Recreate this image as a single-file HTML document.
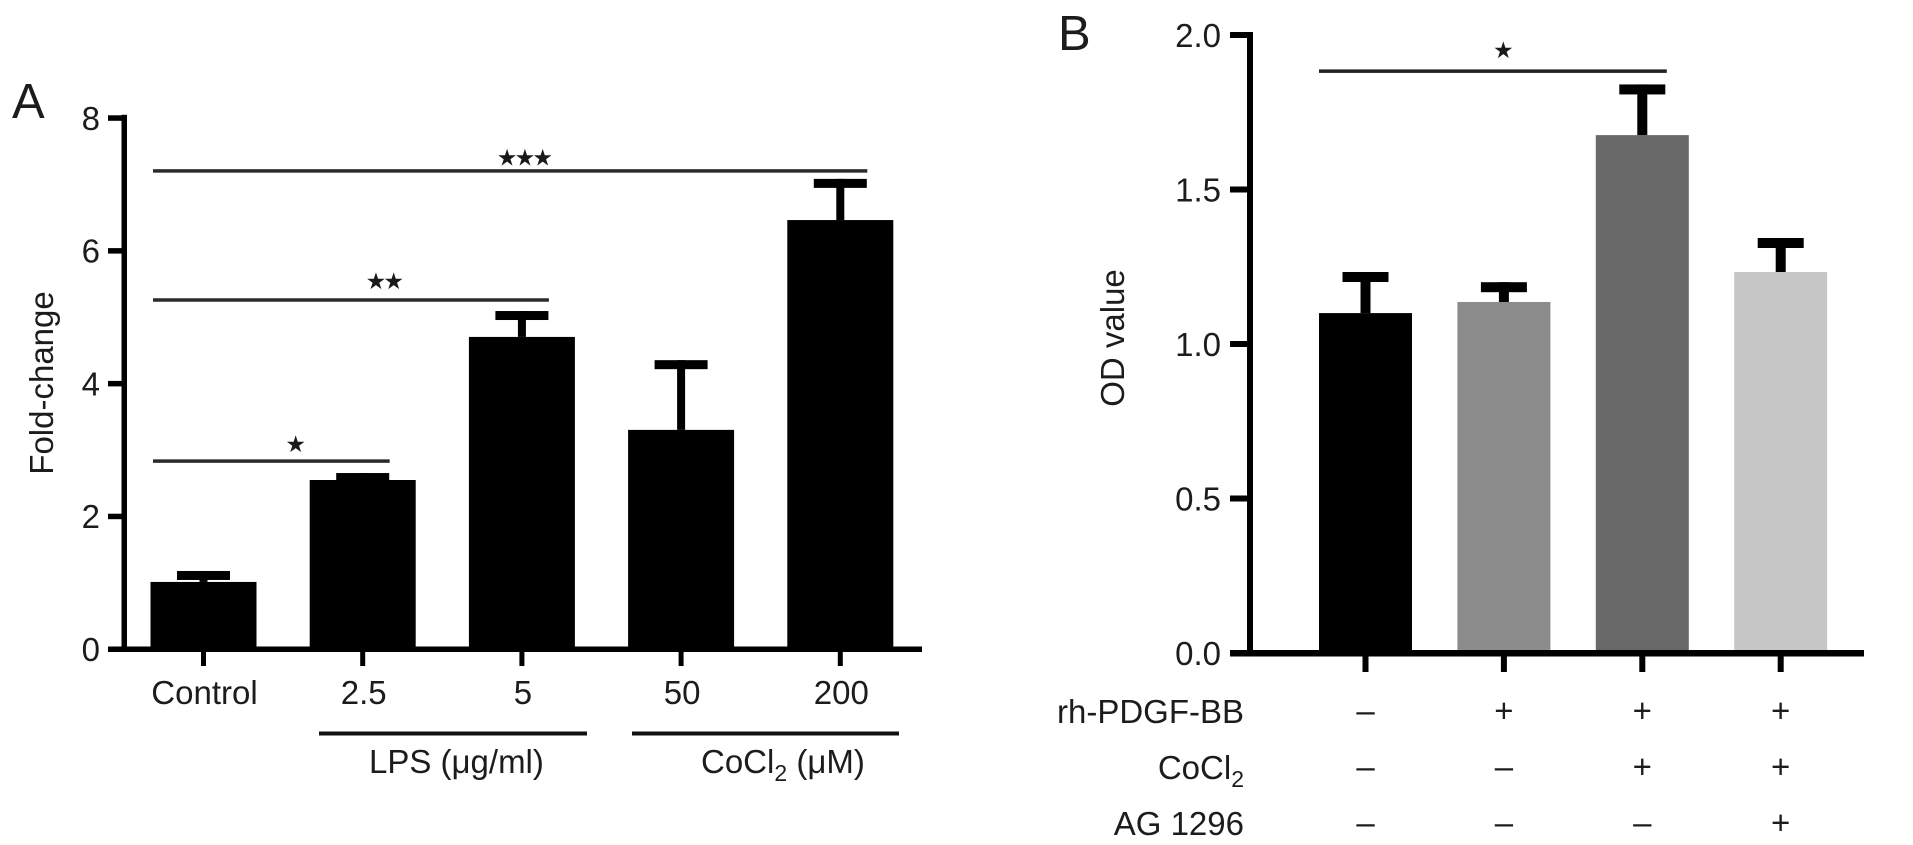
<!DOCTYPE html>
<html lang="en">
<head>
<meta charset="utf-8">
<title>Fold-change and OD value bar charts</title>
<style>
html,body{margin:0;padding:0;background:#fff;}
svg{display:block;}
text{font-family:"Liberation Sans",sans-serif;fill:#1c1c1c;font-size:33px;}
text.star{font-family:"DejaVu Sans",sans-serif;font-size:23px;letter-spacing:-2.8px;fill:#1a1a1a;}
</style>
</head>
<body>
<svg id="fig" width="1913" height="845" viewBox="0 0 1913 845" xmlns="http://www.w3.org/2000/svg">
<rect width="1913" height="845" fill="#fff"/>
<text x="12" y="118" style="font-size:49px">A</text>
<text x="1058" y="50" style="font-size:49px">B</text>
<text transform="translate(53,383) rotate(-90)" text-anchor="middle">Fold-change</text>
<text transform="translate(1124,338) rotate(-90)" text-anchor="middle">OD value</text>
<rect x="319" y="731.5" width="268" height="4" fill="#111"/>
<rect x="632" y="731.5" width="267" height="4" fill="#111"/>
<text x="369" y="773">LPS (μg/ml)</text>
<text x="701" y="773">CoCl<tspan dy="8" font-size="23">2</tspan><tspan dy="-8"> (μM)</tspan></text>
<text x="1244" y="723" text-anchor="end">rh-PDGF-BB</text>
<text x="1244" y="779" text-anchor="end">CoCl<tspan dy="8" font-size="23">2</tspan></text>
<text x="1244" y="835" text-anchor="end">AG 1296</text>
<g id="chartA"></g>
<g id="chartB"></g>
</svg>
<script>
// Panel A data
const aCategories = ["Control", "2.5", "5", "50", "200"];
const aMeans = [1.01, 2.545, 4.70, 3.30, 6.46];
const aUpper = [1.175, 2.65, 5.09, 4.35, 7.08];
const aTicks = [0, 2, 4, 6, 8];
const aSigStart = [0, 0, 0];
const aSigEnd = [1, 2, 4];
const aSigLevel = [2.83, 5.256, 7.2];
const aSigStars = ["★", "★★", "★★★"];
const aStarCategory = [0.57, 1.13, 2.01];
const aStarLevel = [3.07, 5.53, 7.39];
// Panel B data
const bMeans = [1.10, 1.136, 1.676, 1.233];
const bUpper = [1.233, 1.20, 1.84, 1.343];
const bColors = ["#000000", "#8c8c8c", "#686868", "#c6c6c6"];
const bTicks = ["0.0", "0.5", "1.0", "1.5", "2.0"];
const bRowPdgf = ["–", "+", "+", "+"];
const bRowCocl = ["–", "–", "+", "+"];
const bRowAg = ["–", "–", "–", "+"];
const bSigLevel = 1.883;
const bSigStart = 0;
const bSigEnd = 2;
const bStarCategory = 0.986;
const bStarLevel = 1.948;

const NS = "http://www.w3.org/2000/svg";
function make(parent, tag, props, content) {
  const el = document.createElementNS(NS, tag);
  for (const k in props) el.setAttribute(k, props[k]);
  if (content !== undefined) el.textContent = content;
  parent.appendChild(el);
  return el;
}
const gA = document.getElementById("chartA");
const gB = document.getElementById("chartB");

// Panel A axis functions
const ay = v => 649 - 66.4 * v;
const ax = i => 203.5 + 159.2 * i;
const aHalf = 53;

aMeans.forEach((m, i) => {
  const bar = make(gA, "rect", {x: ax(i) - aHalf, y: ay(m), width: aHalf * 2, height: ay(0) - ay(m), fill: "#000"});
  
  
  const stem = make(gA, "rect", {x: ax(i) - 4, y: ay(aUpper[i]), width: 8, height: ay(m) - ay(aUpper[i]), fill: "#000"});
  
  
  const cap = make(gA, "rect", {x: ax(i) - 26.5, y: ay(aUpper[i]), width: 53, height: 9, fill: "#000"});
  
  
  const tick = make(gA, "rect", {x: ax(i) - 2.5, y: ay(0), width: 5, height: 17, fill: "#000"});
  
  
  const lab = make(gA, "text", {x: ax(i) + 1, y: 704, "text-anchor": "middle"}, aCategories[i]);
  
  
});
const aAxisY = make(gA, "rect", {x: 121.5, y: ay(8) - 3, width: 5.5, height: ay(0) - ay(8) + 6, fill: "#000"});


const aAxisX = make(gA, "rect", {x: 108, y: ay(0) - 2.5, width: 814, height: 5.5, fill: "#000"});


aTicks.forEach(t => {
  const tick = make(gA, "rect", {x: 108, y: ay(t) - 2.5, width: 15, height: 5.5, fill: "#000"});
  
  
  const lab = make(gA, "text", {x: 100, y: ay(t) + 12, "text-anchor": "end"}, String(t));
  
  
});
aSigLevel.forEach((lv, i) => {
  const x1 = ax(aSigStart[i]) - 50.5, x2 = ax(aSigEnd[i]) + 27;
  const line = make(gA, "rect", {x: x1, y: ay(lv) - 1.75, width: x2 - x1, height: 3.5, fill: "#2a2a2a"});
  
  
  const star = make(gA, "text", {class: "star", x: ax(aStarCategory[i]), y: ay(aStarLevel[i]) + 7, "text-anchor": "middle"}, aSigStars[i]);
  
  
});

// Panel B axis functions
const by = v => 653 - 309 * v;
const bx = i => 1365.5 + 138.4 * i;
const bHalf = 46.5;
const rowBase = [723, 779, 835];

bMeans.forEach((m, i) => {
  const bar = make(gB, "rect", {x: bx(i) - bHalf, y: by(m), width: bHalf * 2, height: by(0) - by(m), fill: bColors[i]});
  
  
  const stem = make(gB, "rect", {x: bx(i) - 5, y: by(bUpper[i]), width: 10, height: by(m) - by(bUpper[i]), fill: "#000"});
  
  
  const cap = make(gB, "rect", {x: bx(i) - 23, y: by(bUpper[i]), width: 46, height: 10, fill: "#000"});
  
  
  const tick = make(gB, "rect", {x: bx(i) - 3, y: by(0), width: 6, height: 19, fill: "#000"});
  
  
  [bRowPdgf, bRowCocl, bRowAg].forEach((row, r) => {
    const sign = make(gB, "text", {x: bx(i), y: rowBase[r] - 1, "text-anchor": "middle"}, row[i]);
    
    
  });
});
const bAxisY = make(gB, "rect", {x: 1247, y: by(2) - 3, width: 6, height: by(0) - by(2) + 6, fill: "#000"});


const bAxisX = make(gB, "rect", {x: 1230, y: by(0) - 3, width: 634, height: 6.5, fill: "#000"});


bTicks.forEach(t => {
  const v = parseFloat(t);
  const tick = make(gB, "rect", {x: 1230, y: by(v) - 3, width: 18, height: 6, fill: "#000"});
  
  
  const lab = make(gB, "text", {x: 1221, y: by(v) + 12, "text-anchor": "end"}, t);
  
  
});
const bx1 = bx(bSigStart) - 46.5, bx2 = bx(bSigEnd) + 24.5;
const bSig = make(gB, "rect", {x: bx1, y: by(bSigLevel) - 1.75, width: bx2 - bx1, height: 3.5, fill: "#222"});


const bStar = make(gB, "text", {class: "star", x: bx(bStarCategory), y: by(bStarLevel) + 7, "text-anchor": "middle"}, "★");


</script>
</body>
</html>
